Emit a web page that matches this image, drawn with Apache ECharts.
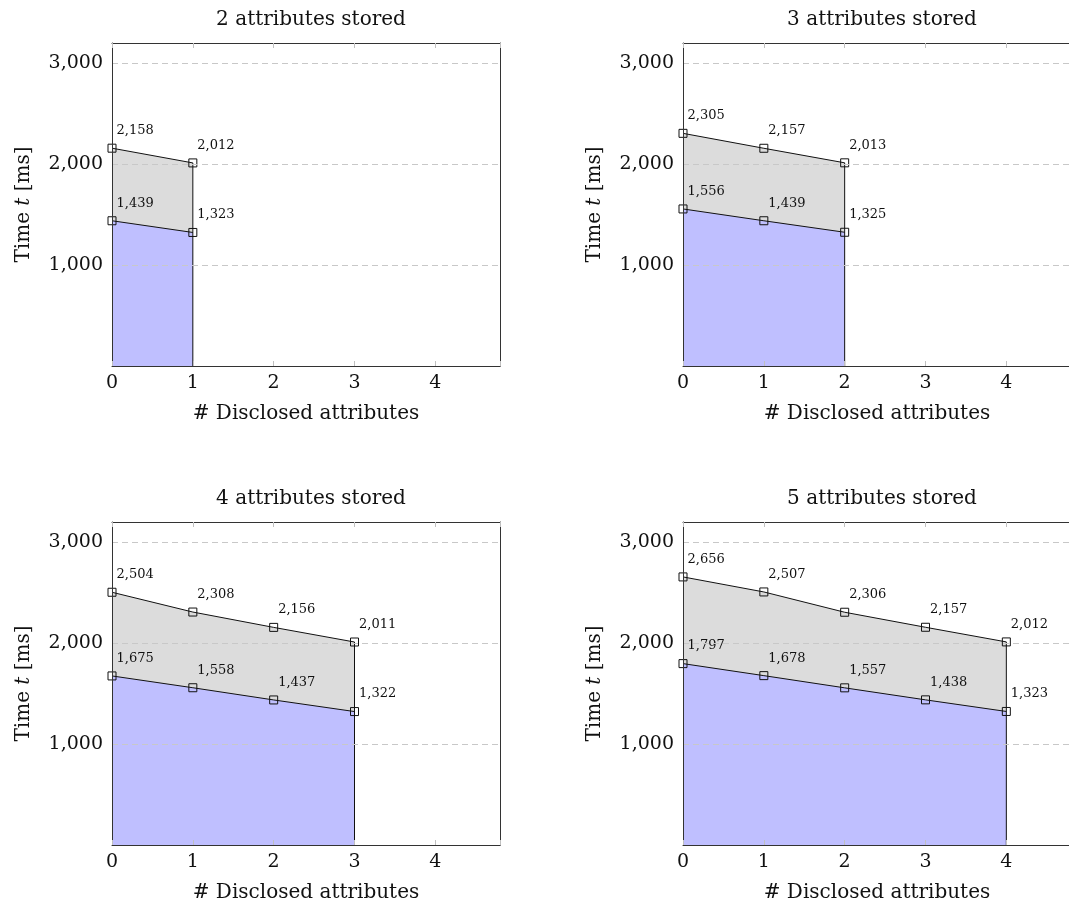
<!DOCTYPE html>
<html><head><meta charset="utf-8">
<script src="https://cdn.jsdelivr.net/npm/echarts@6/dist/echarts.min.js"></script>
<style>html,body{margin:0;padding:0;background:#fff;overflow:hidden}#c{width:1090px;height:906px}</style>
</head><body><div id="c"></div>
<script>
const panelTitles = ['2 attributes stored', '3 attributes stored', '4 attributes stored', '5 attributes stored'];
const upper2 = [2158, 2012];
const lower2 = [1439, 1323];
const upper3 = [2305, 2157, 2013];
const lower3 = [1556, 1439, 1325];
const upper4 = [2504, 2308, 2156, 2011];
const lower4 = [1675, 1558, 1437, 1322];
const upper5 = [2656, 2507, 2306, 2157, 2012];
const lower5 = [1797, 1678, 1557, 1438, 1323];
const xLabel = '# Disclosed attributes';
const yLabel = 'Time {it|t} [ms]';

const uppers = [upper2, upper3, upper4, upper5];
const lowers = [lower2, lower3, lower4, lower5];
const FONT = 'DejaVu Serif';
const panels = [
  {left: 112, top: 43}, {left: 683, top: 43},
  {left: 112, top: 522}, {left: 683, top: 522}
];
const W = 388, H = 323;
const fmt = v => v.toLocaleString('en-US');

const option = {animation: false, backgroundColor: '#fff', title: [], grid: [], xAxis: [], yAxis: [], series: []};
panels.forEach((p, i) => {
  option.title.push({text: panelTitles[i], left: p.left + W / 2, top: p.top - 38, textAlign: 'center',
    textStyle: {fontFamily: FONT, fontSize: 20, fontWeight: 'normal', color: '#111'}});
  option.grid.push({left: p.left, top: p.top, width: W, height: H, show: false});
  const frame = {show: true, onZero: false, lineStyle: {color: '#333', width: 1}};
  const tick = {show: true, inside: true, length: 5, lineStyle: {color: '#c0c0c0'}};
  option.xAxis.push({type: 'value', gridIndex: i, min: 0, max: 4.8, interval: 1, position: 'bottom', z: 11,
    axisLine: frame, axisTick: tick,
    axisLabel: {fontFamily: FONT, fontSize: 19, color: '#111', margin: 8,
      formatter: v => (Number.isInteger(v) ? String(v) : '')},
    splitLine: {show: false},
    name: xLabel, nameLocation: 'middle', nameGap: 38,
    nameTextStyle: {fontFamily: FONT, fontSize: 20, color: '#111'}});
  option.xAxis.push({type: 'value', gridIndex: i, min: 0, max: 4.8, interval: 1, position: 'top', z: 11,
    axisLine: frame, axisTick: tick,
    axisLabel: {show: false}, splitLine: {show: false}});
  option.yAxis.push({type: 'value', gridIndex: i, min: 0, max: 3200, interval: 1000, position: 'left', z: 10,
    axisLine: frame, axisTick: {show: false},
    axisLabel: {fontFamily: FONT, fontSize: 19, color: '#111', margin: 9,
      formatter: v => (v > 0 && v % 1000 === 0 ? fmt(v) : '')},
    splitLine: {show: true, lineStyle: {color: '#c8c8c8', type: [6, 4], width: 1}},
    name: yLabel, nameLocation: 'middle', nameGap: 78,
    nameTextStyle: {fontFamily: FONT, fontSize: 20, color: '#111',
      rich: {it: {fontFamily: FONT, fontSize: 20, fontStyle: 'italic', color: '#111'}}}});
  option.yAxis.push({type: 'value', gridIndex: i, min: 0, max: 3200, interval: 1000, position: 'right', z: 11,
    axisLine: frame, axisTick: {show: false}, axisLabel: {show: false}, splitLine: {show: false}});

  const up = uppers[i], lo = lowers[i];
  const mk = (vals, fill) => ({
    type: 'line', xAxisIndex: 2 * i, yAxisIndex: 2 * i,
    data: vals.map((v, k) => [k, v]),
    symbol: 'rect', symbolSize: 8, showAllSymbol: true,
    lineStyle: {color: '#111', width: 1},
    itemStyle: {color: 'rgba(0,0,0,0)', borderColor: '#111', borderWidth: 1},
    areaStyle: {color: fill, opacity: 1, origin: 'start'},
    label: {show: true, position: [9, -13], align: 'left', verticalAlign: 'middle',
      fontFamily: FONT, fontSize: 13, color: '#111', formatter: d => fmt(d.value[1])},
    emphasis: {disabled: true}, silent: true, z: 3
  });
  option.series.push(mk(up, '#dcdcdc'));
  option.series.push(mk(lo, '#bfbfff'));
  const last = up.length - 1;
  option.series.push({type: 'line', xAxisIndex: 2 * i, yAxisIndex: 2 * i,
    data: [[last, up[last]], [last, 0]], symbol: 'none', lineStyle: {color: '#111', width: 1}, silent: true, z: 4});
});

const chart = echarts.init(document.getElementById('c'), null, {renderer: 'canvas'});
chart.setOption(option);
</script></body></html>
